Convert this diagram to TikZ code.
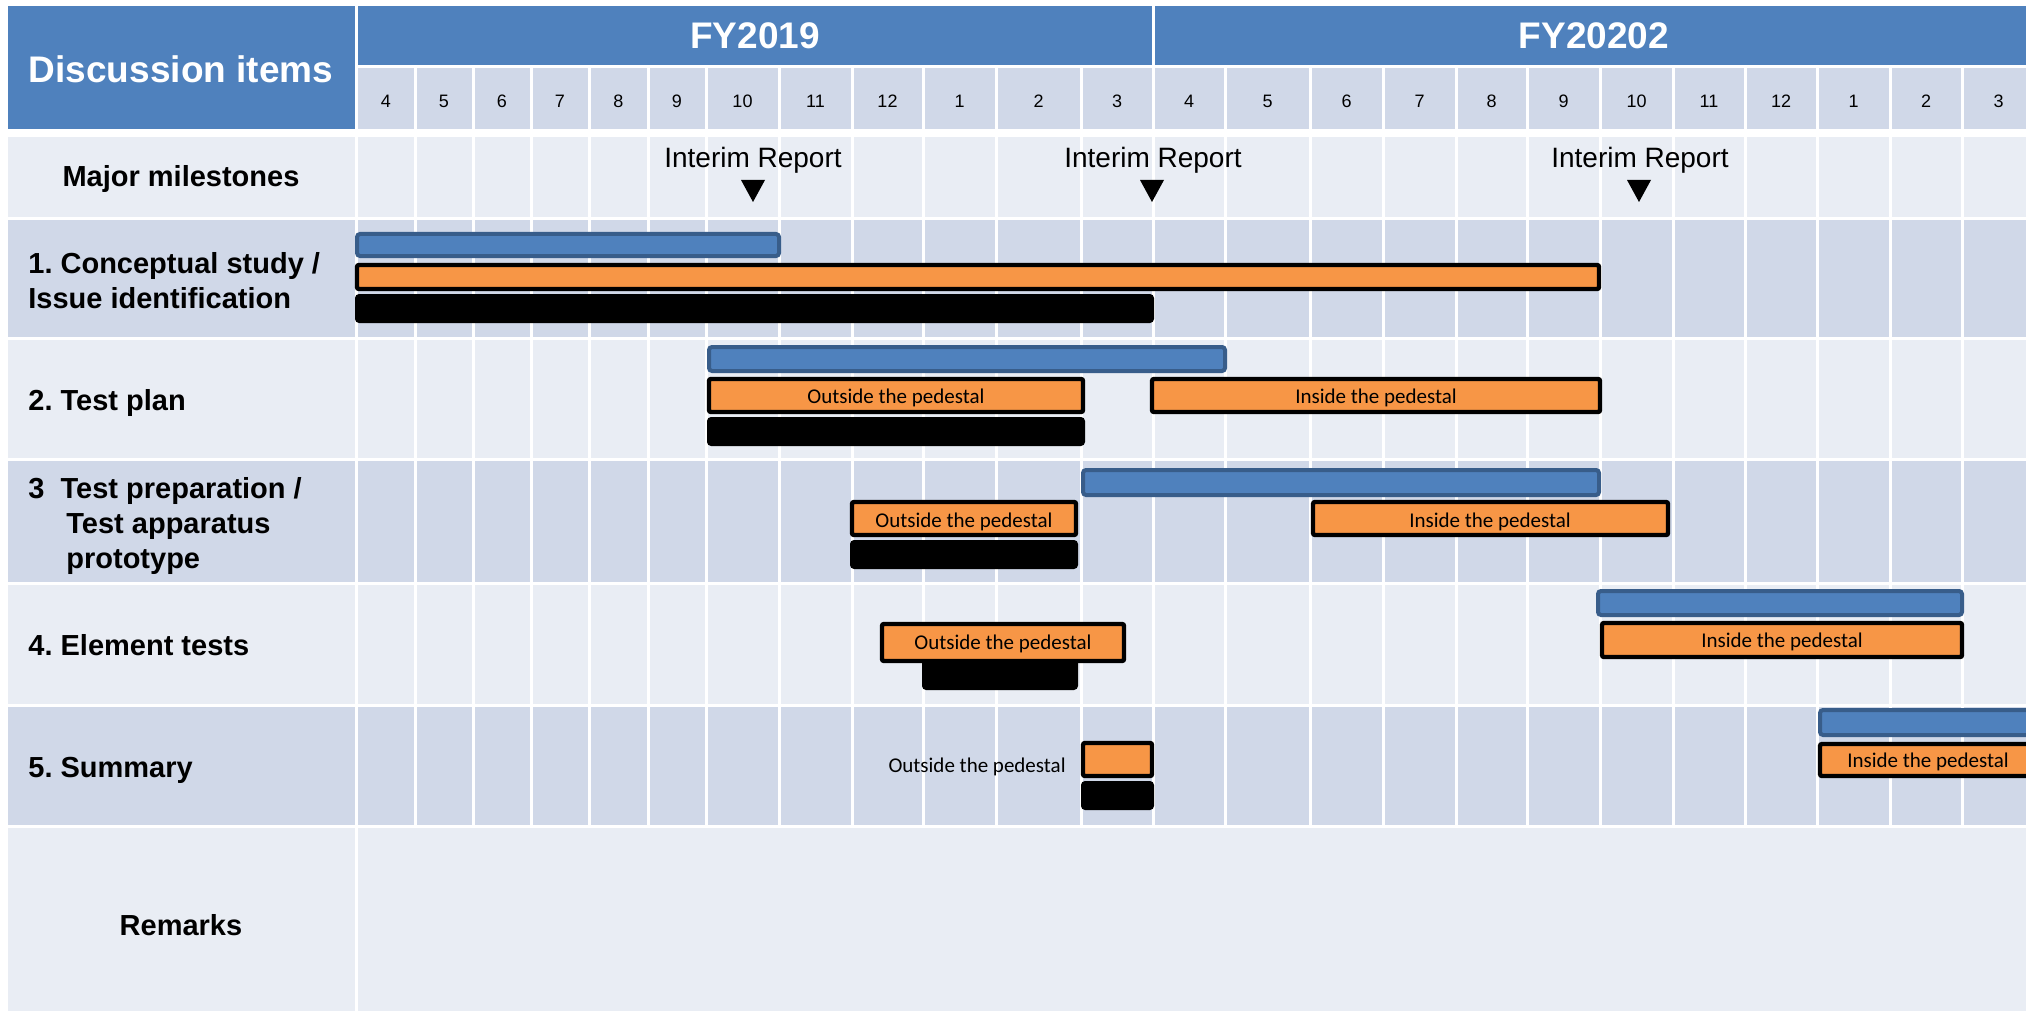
\documentclass[tikz,border=0pt]{standalone}
\usepackage{xcolor}
\usepackage{fontspec}
\setmainfont{Liberation Sans}
\newfontfamily\barfont{Carlito}
\usepackage{tikz}
\frenchspacing

\definecolor{headblue}{HTML}{4F81BD}
\definecolor{edgeblue}{HTML}{385D8A}
\definecolor{taskorange}{HTML}{F79646}
\definecolor{rowdark}{HTML}{D0D8E8}
\definecolor{rowlight}{HTML}{E9EDF4}

\tikzset{
    rowlabel/.style={inner sep=0pt, align=left, font=\bfseries\fontsize{14.5}{17.5}\selectfont},
    monthlabel/.style={font=\fontsize{9}{10}\selectfont},
    headlabel/.style={white, font=\bfseries\fontsize{18.5}{20}\selectfont},
    milelabel/.style={inner sep=0pt, font=\fontsize{14}{16}\selectfont},
    planbar/.style={fill=headblue, draw=edgeblue, line width=2pt, rounded corners=1.5pt},
    workbar/.style={fill=taskorange, draw=black, line width=2.2pt, rounded corners=1pt},
    donebar/.style={fill=black, rounded corners=2pt},
    barlabel/.style={inner sep=0pt, font=\barfont\fontsize{10.5}{12}\selectfont},
    gridline/.style={white, line width=1.5pt},
}

\begin{document}
\begin{tikzpicture}[x=0.5pt, y=-0.5pt]
    \useasboundingbox (0,0) rectangle (2026,1011);
    \clip (0,0) rectangle (2026,1011);

    % header
    \fill[headblue] (8,6) rectangle (355,129);
    \fill[headblue] (357,6) rectangle (2040,65);
    \fill[rowdark] (357,68) rectangle (2040,129);

    % row bands
    \foreach \top/\bot/\col in {137/217/rowlight, 220/337/rowdark, 340/458/rowlight,
                                461/582/rowdark, 585/704/rowlight, 707/825/rowdark,
                                828/1011/rowlight}
        \fill[\col] (8,\top) rectangle (2040,\bot);

    % grid
    \foreach \x in {415,473,531,589,648,706,779,852,923,996,1081,1225,1310,
                    1383,1456,1527,1600,1673,1745,1817,1890,1962}
        \draw[gridline] (\x,68) -- (\x,825);
    \draw[gridline] (356,6) -- (356,1011);
    \draw[gridline] (1153,6) -- (1153,825);

    \node[headlabel] (disc) at (181,69) {Discussion items};
    \node[headlabel] (fy19) at (755,36) {FY2019};
    \node[headlabel] (fy20) at (1594,36) {FY20202};

    \foreach \l/\r/\m in {357/415/4, 415/473/5, 473/531/6, 531/589/7, 589/648/8,
                          648/706/9, 706/779/10, 779/852/11, 852/923/12, 923/996/1,
                          996/1081/2, 1081/1153/3, 1153/1225/4, 1225/1310/5,
                          1310/1383/6, 1383/1456/7, 1456/1527/8, 1527/1600/9,
                          1600/1673/10, 1673/1745/11, 1745/1817/12, 1817/1890/1,
                          1890/1962/2, 1962/2035/3}
        \node[monthlabel] (m\l) at ({(\l+\r)/2},101) {\m};

    % row titles
    \node[rowlabel, anchor=base] (mile) at (181,187) {Major milestones};
    \node[rowlabel, anchor=north west] (task1) at (28,252) {1. Conceptual study /\\Issue identification};
    \node[rowlabel, anchor=base west] (task2) at (28,410) {2. Test plan};
    \node[rowlabel, anchor=north west] (task3) at (28,477)
        {3\ \ Test preparation /\\\hspace*{19pt}Test apparatus\\\hspace*{19pt}prototype};
    \node[rowlabel, anchor=base west] (task4) at (28,655) {4. Element tests};
    \node[rowlabel, anchor=base west] (task5) at (28,777) {5. Summary};
    \node[rowlabel, anchor=base] (rem) at (181,935) {Remarks};

    % milestones
    \node[milelabel] (ir1) at (753,160) {Interim Report};
    \node[milelabel] (ir2) at (1153,160) {Interim Report};
    \node[milelabel] (ir3) at (1640,160) {Interim Report};
    \fill (741,180) -- (765,180) -- (753,202) -- cycle;
    \fill (1140,180) -- (1164,180) -- (1152,202) -- cycle;
    \fill (1627,180) -- (1651,180) -- (1639,202) -- cycle;

    % 1. Conceptual study
    \draw[planbar] (357,234) rectangle (779,256);
    \draw[workbar] (357,265) rectangle (1599,289);
    \fill[donebar] (355,294) rectangle (1154,323);

    % 2. Test plan
    \draw[planbar] (709,347) rectangle (1225,371);
    \draw[workbar] (709,379) rectangle (1083,412);
    \draw[workbar] (1152,379) rectangle (1600,412);
    \fill[donebar] (707,417) rectangle (1085,446);
    \node[barlabel, anchor=base] (out2) at (896,403) {Outside the pedestal};
    \node[barlabel, anchor=base] (in2) at (1376,403) {Inside the pedestal};

    % 3. Test preparation
    \draw[planbar] (1083,470) rectangle (1599,495);
    \draw[workbar] (852,502) rectangle (1076,535);
    \draw[workbar] (1313,502) rectangle (1668,535);
    \fill[donebar] (850,540) rectangle (1078,569);
    \node[barlabel, anchor=base] (out3) at (964,527) {Outside the pedestal};
    \node[barlabel, anchor=base] (in3) at (1490,527) {Inside the pedestal};

    % 4. Element tests
    \fill[donebar] (922,655) rectangle (1078,690);
    \draw[workbar] (882,624) rectangle (1124,661);
    \draw[planbar] (1598,591) rectangle (1962,615);
    \draw[workbar] (1602,623) rectangle (1962,657);
    \node[barlabel, anchor=base] (out4) at (1003,649) {Outside the pedestal};
    \node[barlabel, anchor=base] (in4) at (1782,647) {Inside the pedestal};

    % 5. Summary
    \draw[workbar] (1083,743) rectangle (1152,776);
    \fill[donebar] (1081,781) rectangle (1154,810);
    \draw[planbar] (1820,710) rectangle (2070,735);
    \draw[workbar] (1820,744) rectangle (2036,776);
    \node[barlabel, anchor=base east] (out5) at (1066,772) {Outside the pedestal};
    \node[barlabel, anchor=base] (in5) at (1928,767) {Inside the pedestal};

\end{tikzpicture}
\end{document}
